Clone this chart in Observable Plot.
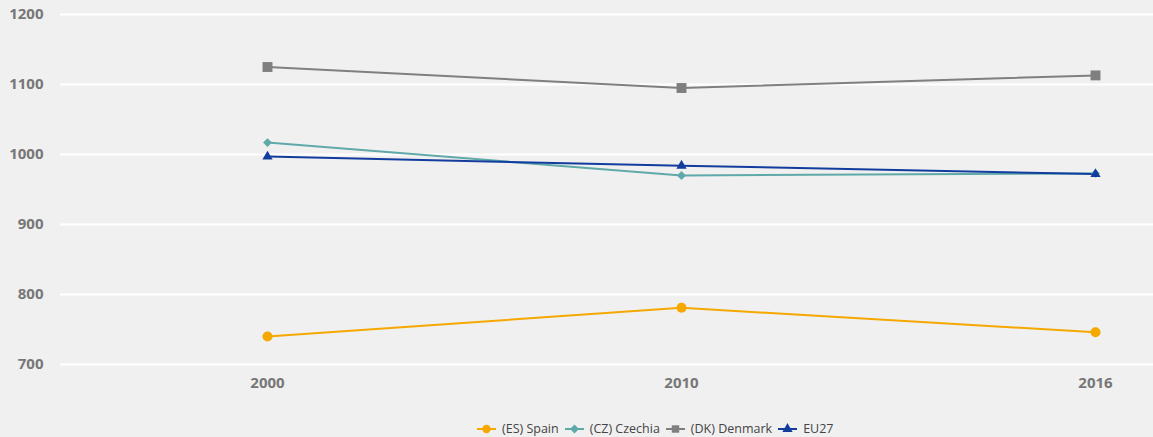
<!DOCTYPE html>
<html>
<head>
<meta charset="utf-8">
<script src="https://cdn.jsdelivr.net/npm/d3@7"></script>
<script src="https://cdn.jsdelivr.net/npm/@observablehq/plot@0.6"></script>
<style>
  html, body { margin: 0; padding: 0; background: #f0f0f0; }
  body { width: 1153px; height: 437px; overflow: hidden; position: relative; font-family: "Open Sans", sans-serif; }
  #legend { position: absolute; left: 477px; top: 420px; display: flex; align-items: center; font-size: 12.5px; color: #444; white-space: nowrap; }
  #legend .item { display: flex; align-items: center; margin-right: 6px; }
  #legend svg { margin-right: 6px; }
</style>
</head>
<body>
<div id="chart"></div>
<div id="legend"></div>
<script>
const years = ["2000", "2010", "2016"];
const seriesNames = ["(ES) Spain", "(CZ) Czechia", "(DK) Denmark", "EU27"];
const spain = [740, 781, 746];
const czechia = [1017, 970, 973];
const denmark = [1125, 1095, 1113];
const eu27 = [997, 984, 972];
const yTicks = [700, 800, 900, 1000, 1100, 1200];

const colors = ["#f5a800", "#5fa9a8", "#7f7f7f", "#123c9e"];
const symbols = ["circle", "diamond2", "square", "triangle"];
const radii = [5, 4, 5.6, 3.8];

const valuesBySeries = [spain, czechia, denmark, eu27];
const data = [];
seriesNames.forEach((s, i) => years.forEach((y, j) => data.push({series: s, year: y, value: valuesBySeries[i][j]})));

const plot = Plot.plot({
  width: 1153,
  height: 412,
  marginLeft: 60,
  marginRight: 0,
  marginTop: 14,
  marginBottom: 48,
  style: {background: "#f0f0f0", fontFamily: "'Open Sans', sans-serif", fontSize: "13px"},
  x: {type: "point", domain: years, padding: 0, insetLeft: 207, insetRight: 58, label: null},
  y: {domain: [700, 1200], ticks: yTicks, label: null},
  color: {domain: seriesNames, range: colors},
  marks: [
    Plot.gridY(yTicks, {stroke: "#ffffff", strokeOpacity: 1, strokeWidth: 2}),
    Plot.axisY(yTicks, {tickSize: 0, tickPadding: 17, fontWeight: "bold", fill: "#777", tickFormat: d3.format("d"), label: null}),
    Plot.axisX({tickSize: 0, tickPadding: 13, fontWeight: "bold", fill: "#777", label: null}),
    Plot.line(data, {x: "year", y: "value", z: "series", stroke: "series", strokeWidth: 2}),
    ...seriesNames.map((s, i) => Plot.dot(data.filter(d => d.series === s), {
      x: "year", y: "value", fill: "series", stroke: "none", symbol: () => symbols[i], r: radii[i]
    }))
  ]
});
d3.select(plot).selectAll("text").style("font-size", "15px").style("font-family", "'Open Sans', sans-serif").style("font-weight", "bold");
document.getElementById("chart").appendChild(plot);

const legend = d3.select("#legend");
const symMap = {circle: d3.symbolCircle, diamond2: d3.symbolDiamond2, square: d3.symbolSquare, triangle: d3.symbolTriangle};
seriesNames.forEach((s, i) => {
  const item = legend.append("div").attr("class", "item");
  const sv = item.append("svg").attr("width", 19).attr("height", 12);
  sv.append("line").attr("x1", 0).attr("x2", 19).attr("y1", 6).attr("y2", 6).attr("stroke", colors[i]).attr("stroke-width", 2);
  sv.append("path").attr("transform", "translate(9.5,6)")
    .attr("d", d3.symbol(symMap[symbols[i]], Math.PI * Math.pow(Math.min(radii[i], 4.2), 2))())
    .attr("fill", colors[i]);
  item.append("span").text(s);
});
</script>
</body>
</html>
